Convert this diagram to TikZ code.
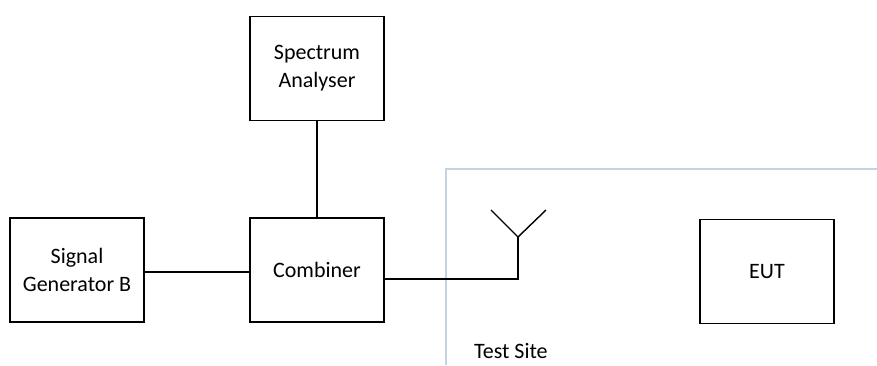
\documentclass[tikz,border=0pt]{standalone}
\usepackage{fontspec}
\setmainfont{Carlito}
\usepackage{tikz}
\tikzset{>=latex}
\definecolor{sitecol}{HTML}{C5D3E0}

\begin{document}
\begin{tikzpicture}
                [x=1pt,y=-1pt,line width=1.4pt,every node/.style={draw,rectangle,minimum width=134pt,minimum height=104pt,align=center,font=\fontsize{22}{28}\selectfont}]
                \useasboundingbox (0,0) rectangle (877,365);
                \draw[sitecol,line width=1.2pt] (446,365) -- (446,169) -- (877,169);

                \node (spec) at (317,68.5) {Spectrum\\Analyser};
                \node (comb) at (317,270) {Combiner};
                \node (sgen) at (77,270) {Signal\\Generator B};
                \node (eut) at (767,271.5) {EUT};
                \node[draw=none,minimum width=0pt,minimum height=0pt,anchor=west] (site) at (470,351) {Test Site};

                \coordinate (feed) at (518,279);
                \coordinate (ant) at (518,237);
                \coordinate (armL) at (491,210);
                \coordinate (armR) at (546,210);

                \draw (spec) -- (comb);
                \draw (sgen.east |- 0,272) -- (comb.west |- 0,272);
                \draw (comb.east |- feed) -- (feed) -- (ant);
                \draw (armL) -- (ant) -- (armR);
            \end{tikzpicture}
\end{document}
